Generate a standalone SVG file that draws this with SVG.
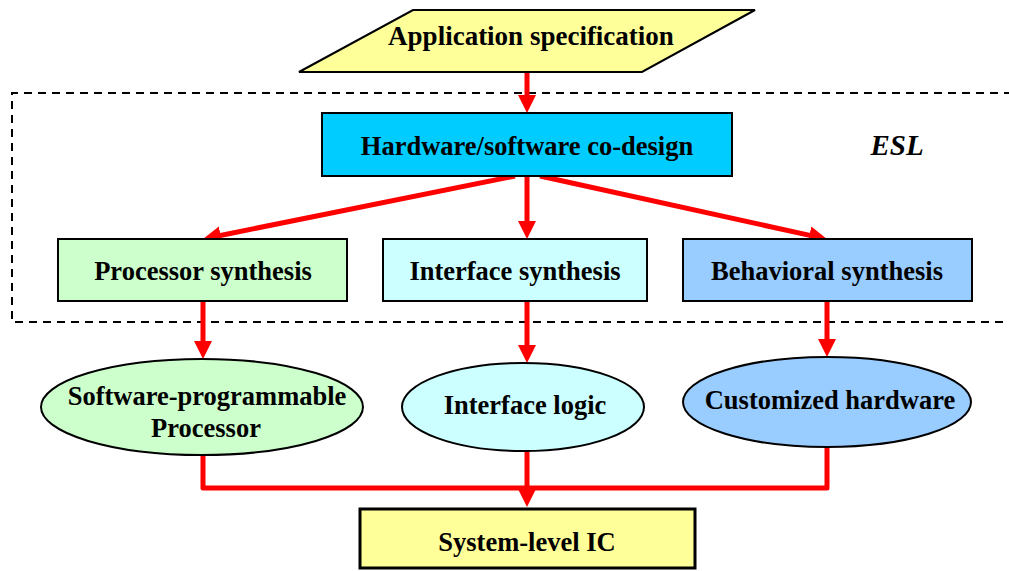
<svg xmlns="http://www.w3.org/2000/svg" width="1009" height="571" viewBox="0 0 1009 571">
<style>
.box{stroke:#000;stroke-width:2}
.t{font-family:"Liberation Serif","Times New Roman",serif;font-weight:bold;font-size:26.5px;fill:#000;text-anchor:middle}
.c{stroke:#FF0000;stroke-width:5;fill:none}
</style>
<defs>
<marker id="ah" markerUnits="userSpaceOnUse" markerWidth="20" markerHeight="20" viewBox="0 0 20 20" refX="4" refY="9" orient="auto">
<path d="M0,0 L18,9 L0,18 z" fill="#FF0000"/>
</marker>
</defs>
<rect width="1009" height="571" fill="#fff"/>
<path d="M1012,93 H12 V322 H1012" fill="none" stroke="#000" stroke-width="2" stroke-dasharray="8,6"/>
<text x="897" y="155" style="font-family:'Liberation Serif','Times New Roman',serif;font-weight:bold;font-style:italic;font-size:29px" text-anchor="middle">ESL</text>
<g id="connectors">
<line class="c" x1="527" y1="72" x2="527" y2="99" marker-end="url(#ah)"/>
<line class="c" x1="515" y1="176" x2="216.7" y2="236.2" marker-end="url(#ah)"/>
<line class="c" x1="527" y1="176" x2="527" y2="225" marker-end="url(#ah)"/>
<line class="c" x1="540" y1="176" x2="813.3" y2="236.1" marker-end="url(#ah)"/>
<line class="c" x1="203" y1="301" x2="203" y2="345" marker-end="url(#ah)"/>
<line class="c" x1="527" y1="301" x2="527" y2="349" marker-end="url(#ah)"/>
<line class="c" x1="827" y1="301" x2="827" y2="343" marker-end="url(#ah)"/>
<path class="c" d="M203,447 V488 H827 V447" stroke-linejoin="round"/>
<line class="c" x1="527" y1="451" x2="527" y2="493" marker-end="url(#ah)"/>
</g>
<g id="app-spec">
<polygon class="box" points="413,10 755,10 642,72 299,72" fill="#FFFF99"/>
<text class="t" x="531" y="45" style="font-size:27px">Application specification</text>
</g>
<g id="hw-sw-codesign">
<rect class="box" x="322" y="113" width="410" height="63" fill="#00CCFF"/>
<text class="t" x="527" y="155">Hardware/software co-design</text>
</g>
<g id="processor-synthesis">
<rect class="box" x="58" y="239" width="289" height="62" fill="#CCFFCC"/>
<text class="t" x="203" y="280">Processor synthesis</text>
</g>
<g id="interface-synthesis">
<rect class="box" x="383" y="239" width="264" height="62" fill="#CCFFFF"/>
<text class="t" x="515" y="280">Interface synthesis</text>
</g>
<g id="behavioral-synthesis">
<rect class="box" x="683" y="239" width="289" height="62" fill="#99CCFF"/>
<text class="t" x="827" y="280">Behavioral synthesis</text>
</g>
<g id="sw-processor">
<ellipse class="box" cx="202" cy="407" rx="161" ry="48" fill="#CCFFCC"/>
<text class="t" x="207" y="405">Software-programmable</text>
<text class="t" x="206" y="437">Processor</text>
</g>
<g id="interface-logic">
<ellipse class="box" cx="523" cy="407" rx="121" ry="44" fill="#CCFFFF"/>
<text class="t" x="525" y="414">Interface logic</text>
</g>
<g id="custom-hw">
<ellipse class="box" cx="827" cy="402" rx="144" ry="45" fill="#99CCFF"/>
<text class="t" x="830" y="409">Customized hardware</text>
</g>
<g id="system-ic">
<rect x="360" y="509" width="335" height="59" fill="#FFFF99" stroke="#000" stroke-width="3"/>
<text class="t" x="527" y="551">System-level IC</text>
</g>
</svg>
